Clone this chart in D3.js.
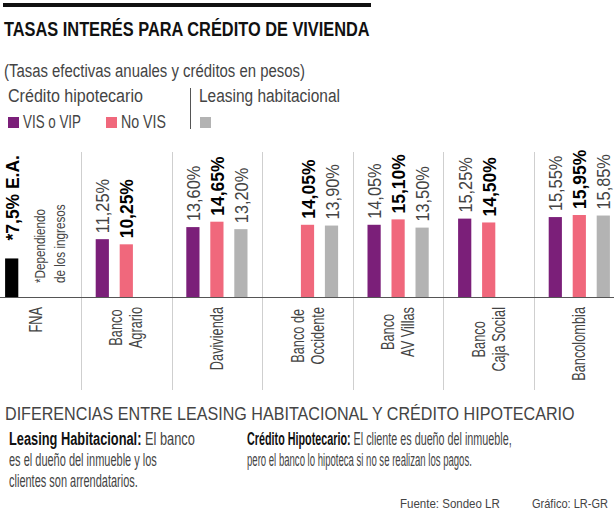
<!DOCTYPE html>
<html>
<head>
<meta charset="utf-8">
<script src="https://cdn.jsdelivr.net/npm/d3@7"></script>
<style>
  body { margin: 0; background: #fff; }
  text { font-family: "Liberation Sans", Arial, sans-serif; }
</style>
</head>
<body>
<svg id="frame" width="614" height="512"></svg>
<script>
// bancos y lineas de la etiqueta
const banks = ["FNA", "Banco Agrario", "Davivienda", "Banco de Occidente", "Banco AV Villas", "Banco Caja Social", "Bancolombia"];
const bankLines = [["FNA"], ["Banco", "Agrario"], ["Davivienda"], ["Banco de", "Occidente"], ["Banco", "AV Villas"], ["Banco", "Caja Social"], ["Bancolombia"]];

// tasas (%), null = sin dato
const visVip  = [7.5, 11.25, 13.60, null, 14.05, 15.25, 15.55];
const noVis   = [null, 10.25, 14.65, 14.05, 15.10, 14.50, 15.95];
const leasing = [null, null, 13.20, 13.90, 13.50, null, 15.85];

const seriesKeys = ["vis", "novis", "leasing"];
const colors = { vis: "#7b1f79", novis: "#f0687c", leasing: "#b3b3b3", fna: "#000" };

const svg = d3.select("#frame");
const baseY = 297;

// escalas
const x0 = d3.scaleBand().domain(banks).range([-9.6, 624.6]);
const x1 = d3.scaleBand().domain(seriesKeys).range([-36, 36]).paddingInner(0.45).paddingOuter(0.225);
const y = d3.scaleLinear().domain([0, 16]).range([baseY, baseY - 16 * 5.14]);

const fmt = v => d3.format(".2f")(v).replace(".", ",") + "%";

// texto horizontal ajustado a un ancho (fuente condensada)
function fit(sel, w) {
  sel.each(function () {
    const n = this.getComputedTextLength();
    const x = +this.getAttribute("x"), yy = +this.getAttribute("y");
    d3.select(this).attr("x", 0).attr("y", 0)
      .attr("transform", `translate(${x},${yy}) scale(${w / n},1)`);
  });
  return sel;
}
function label(x, yy, str, size, w, opts = {}) {
  const t = svg.append("text").attr("x", x).attr("y", yy)
    .style("font-size", size + "px")
    .style("font-weight", opts.bold ? "bold" : "normal")
    .attr("fill", opts.fill || "#444")
    .text(str);
  return fit(t, w);
}

// encabezado
svg.append("rect").attr("x", 3).attr("y", 3).attr("width", 368).attr("height", 4).attr("fill", "#111");
label(4, 36, "TASAS INTERÉS PARA CRÉDITO DE VIVIENDA", 21, 366, { bold: true, fill: "#111" });
label(4, 77, "(Tasas efectivas anuales y créditos en pesos)", 19, 301);

// leyenda
label(8, 102, "Crédito hipotecario", 19, 135);
label(199, 102, "Leasing habitacional", 19, 141);
svg.append("line").attr("x1", 190.5).attr("x2", 190.5).attr("y1", 88).attr("y2", 129).attr("stroke", "#555");

const legendItems = [
  { key: "vis", label: "VIS o VIP", x: 8, w: 58 },
  { key: "novis", label: "No VIS", x: 106, w: 45 },
  { key: "leasing", label: "", x: 200, w: 0 }
];
legendItems.forEach(d => {
  svg.append("rect").attr("x", d.x).attr("y", 117).attr("width", 11).attr("height", 11).attr("fill", colors[d.key]);
  if (d.label) label(d.x + 15, 128, d.label, 19, d.w);
});

// separadores y eje
svg.append("g").selectAll("line").data(banks.slice(1)).join("line")
  .attr("x1", d => Math.round(x0(d)) + 0.5).attr("x2", d => Math.round(x0(d)) + 0.5)
  .attr("y1", 152).attr("y2", 390)
  .attr("stroke", "#cfcfcf");
svg.append("line").attr("x1", 0).attr("x2", 614).attr("y1", baseY + 0.5).attr("y2", baseY + 0.5)
  .attr("stroke", "#555").attr("stroke-width", 1.2);

// datos de barras
const bars = [];
banks.forEach((b, i) => {
  [["vis", visVip[i]], ["novis", noVis[i]], ["leasing", leasing[i]]].forEach(([k, v]) => {
    if (v != null) bars.push({ bank: b, key: k, value: v, fna: i === 0 });
  });
});
const isBold = d => d.key === "novis" || d.fna;

const chart = svg.append("g");
chart.selectAll("rect").data(bars).join("rect")
  .attr("x", d => x0(d.bank) + x0.bandwidth() / 2 + x1(d.key))
  .attr("y", d => y(d.value))
  .attr("width", x1.bandwidth())
  .attr("height", d => baseY - y(d.value))
  .attr("fill", d => d.fna ? colors.fna : colors[d.key]);

// etiquetas de valor
chart.selectAll("text.value").data(bars).join("text")
  .attr("class", "value")
  .attr("transform", d => {
    const cx = x0(d.bank) + x0.bandwidth() / 2 + x1(d.key) + x1.bandwidth() / 2;
    const gap = d.fna ? 18 : 6;
    const k = isBold(d) ? 0.97 : 0.86;
    return `translate(${cx + 7},${y(d.value) - gap}) rotate(-90) scale(${k},1)`;
  })
  .style("font-weight", d => isBold(d) ? "bold" : "normal")
  .style("font-size", d => isBold(d) ? "18px" : "19px")
  .attr("fill", d => isBold(d) ? "#000" : "#444")
  .text(d => d.fna ? "*" + d3.format(".1f")(d.value).replace(".", ",") + "% E.A." : fmt(d.value));

// nota FNA
const note = ["*Dependiendo", "de los ingresos"];
svg.append("g").selectAll("text").data(note).join("text")
  .attr("transform", (d, i) => `translate(${45 + i * 20},283) rotate(-90) scale(0.78,1)`)
  .style("font-size", "15px").attr("fill", "#444")
  .text(d => d);

// etiquetas de categoria
const catK = 0.73;
const cat = svg.append("g").selectAll("g").data(banks).join("g");
cat.each(function (b, i) {
  const g = d3.select(this);
  const lines = bankLines[i];
  const cx = x0(b) + x0.bandwidth() / 2;
  const texts = g.selectAll("text").data(lines).join("text")
    .style("font-size", "17.5px").attr("fill", "#444")
    .attr("text-anchor", "middle")
    .text(d => d);
  let maxLen = 0;
  texts.each(function () { maxLen = Math.max(maxLen, this.getComputedTextLength()); });
  texts.attr("transform", (d, j) =>
    `translate(${cx + 6 + (j - (lines.length - 1) / 2) * 20},${307 + maxLen * catK / 2}) rotate(-90) scale(${catK},1)`);
});

// diferencias
label(5, 420, "DIFERENCIAS ENTRE LEASING HABITACIONAL Y CRÉDITO HIPOTECARIO", 18, 570);

function para(x, lead, lines, widths) {
  lines.forEach((ln, i) => {
    const txt = svg.append("text").attr("x", x).attr("y", 445 + i * 21)
      .style("font-size", "18.5px").attr("fill", "#444");
    if (i === 0) txt.append("tspan").attr("fill", "#111").style("font-weight", "bold").text(lead);
    txt.append("tspan").text(ln);
    fit(txt, widths[i]);
  });
}
para(9, "Leasing Habitacional:", [" El banco", "es el dueño del inmueble y los", "clientes son arrendatarios."], [186, 148, 129]);
para(247, "Crédito Hipotecario:", [" El cliente es dueño del inmueble,", "pero el banco lo hipoteca si no se realizan los pagos."], [265, 225]);

label(400, 508, "Fuente: Sondeo LR", 13, 100);
label(532, 508, "Gráfico: LR-GR", 13, 76);
</script>
</body>
</html>
